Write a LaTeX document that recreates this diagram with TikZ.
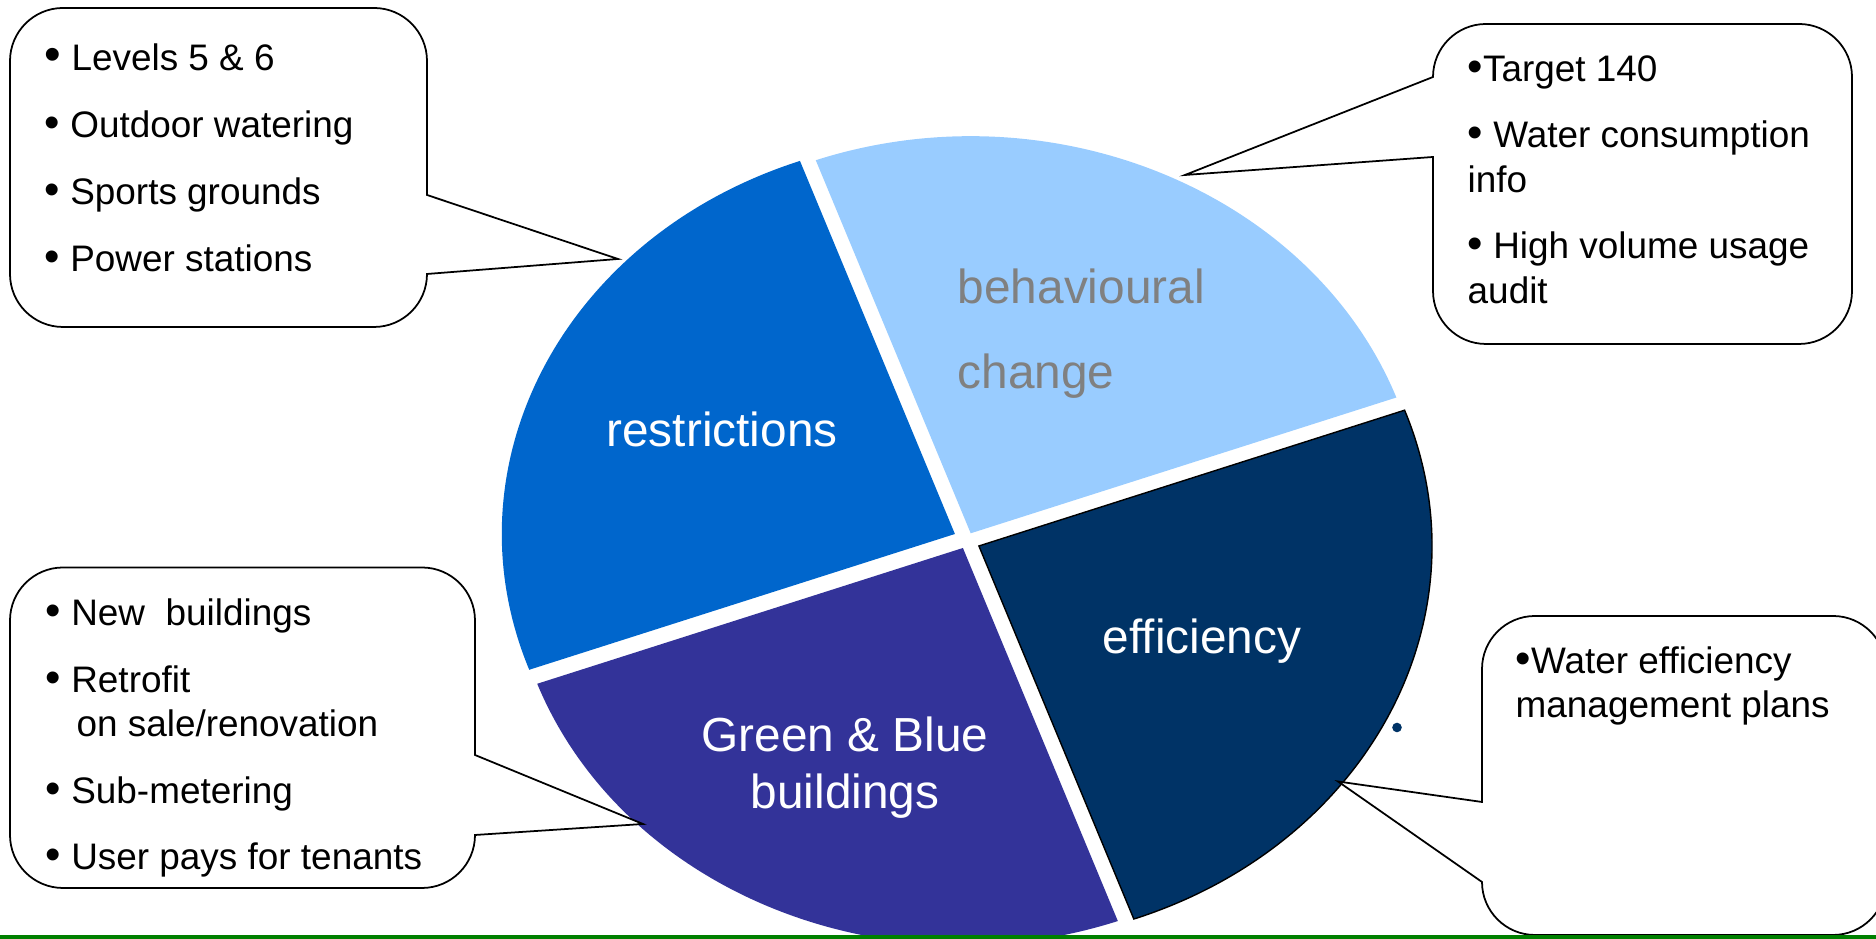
\documentclass[tikz,border=0pt]{standalone}
\usepackage{fontspec}
\setmainfont{Liberation Sans}
\usepackage{tikz}

\definecolor{restrblue}{RGB}{0,102,204}
\definecolor{behavblue}{RGB}{153,204,255}
\definecolor{gbblue}{RGB}{51,51,153}
\definecolor{efficblue}{RGB}{0,51,102}
\definecolor{labelgray}{RGB}{128,128,128}
\definecolor{rulegreen}{RGB}{0,128,0}

% a slightly larger bullet than the text font gives
\newcommand{\bul}{{\fontsize{12.5}{12}\selectfont\textbullet}}

\begin{document}
\begin{tikzpicture}[
  callout/.style={draw=black, line width=0.5pt, fill=white},
  item/.style={anchor=base west, inner sep=0pt, font=\fontsize{10.5}{12.6}\selectfont},
  slicetext/.style={anchor=base, inner sep=0pt, text=white, font=\fontsize{13.6}{16}\selectfont}
]
\useasboundingbox (0,0) rectangle (18.76,9.39);

% the pie, four quarters pulled apart a little
\begin{scope}[shift={(9.669,3.987)}]
\fill[restrblue, shift={(-0.12,0.063)}] (0,0) -- (110:4.53 and 3.97) arc[start angle=110, end angle=200, x radius=4.53, y radius=3.97] -- cycle;
\fill[behavblue, shift={(0.038,0.07)}] (0,0) -- (20:4.53 and 3.97) arc[start angle=20, end angle=110, x radius=4.53, y radius=3.97] -- cycle;
\fill[gbblue, shift={(-0.04,-0.077)}] (0,0) -- (200:4.53 and 3.97) arc[start angle=200, end angle=290, x radius=4.53, y radius=3.97] -- cycle;
\filldraw[fill=efficblue, draw=black, line width=0.4pt, shift={(0.12,-0.057)}] (0,0) -- (290:4.53 and 3.97) arc[start angle=290, end angle=380, x radius=4.53, y radius=3.97] -- cycle;
\end{scope}
\fill[efficblue] (13.97,2.115) circle[radius=0.048];

% slice labels
\node[slicetext] (restr) at (7.22,4.923) {restrictions};
\node[slicetext, anchor=base west, text=labelgray] (behav) at (9.57,6.357) {behavioural};
\node[slicetext, anchor=base west, text=labelgray] (change) at (9.57,5.507) {change};
\node[slicetext] (effic) at (12.02,2.85) {efficiency};
\node[slicetext] (green) at (8.45,1.873) {Green \& Blue};
\node[slicetext] (bldg) at (8.45,1.307) {buildings};

% pointer tips of the callouts
\coordinate (tltip) at (6.18,6.80);
\coordinate (trtip) at (11.85,7.64);
\coordinate (bltip) at (6.43,1.15);
\coordinate (brtip) at (13.38,1.575);

% callout boxes
\draw[callout] (4.27,7.44) -- (tltip) -- (4.27,6.65) arc[start angle=0, end angle=-90, radius=0.53] -- (0.63,6.12) arc[start angle=270, end angle=180, radius=0.53] -- (0.10,8.78) arc[start angle=180, end angle=90, radius=0.53] -- (3.74,9.31) arc[start angle=90, end angle=0, radius=0.53] -- cycle;
\draw[callout] (14.33,7.82) -- (trtip) -- (14.33,8.62) arc[start angle=180, end angle=90, radius=0.53] -- (17.99,9.15) arc[start angle=90, end angle=0, radius=0.53] -- (18.52,6.48) arc[start angle=0, end angle=-90, radius=0.53] -- (14.86,5.95) arc[start angle=270, end angle=180, radius=0.53] -- cycle;
\draw[callout] (4.75,1.84) -- (bltip) -- (4.75,1.04) arc[start angle=0, end angle=-90, radius=0.53] -- (0.63,0.51) arc[start angle=270, end angle=180, radius=0.53] -- (0.10,3.185) arc[start angle=180, end angle=90, radius=0.53] -- (4.22,3.715) arc[start angle=90, end angle=0, radius=0.53] -- cycle;
\draw[callout] (14.82,1.37) -- (brtip) -- (14.82,0.57) arc[start angle=180, end angle=270, radius=0.53] -- (18.33,0.04) arc[start angle=270, end angle=360, radius=0.53] -- (18.86,2.70) arc[start angle=0, end angle=90, radius=0.53] -- (15.35,3.23) arc[start angle=90, end angle=180, radius=0.53] -- cycle;

% callout texts
\node[item] (lvl) at (0.44,8.683) {{\fontsize{13.5}{12}\selectfont\textbullet}\ Levels 5 \& 6};
\node[item] (outd) at (0.44,8.01) {\bul\ Outdoor watering};
\node[item] (sport) at (0.44,7.34) {\bul\ Sports grounds};
\node[item] (power) at (0.44,6.673) {\bul\ Power stations};

\node[item] (target) at (14.67,8.573) {\bul Target 140};
\node[item] (cons) at (14.67,7.91) {\bul\ Water consumption};
\node[item] (info) at (14.67,7.46) {info};
\node[item] (vol) at (14.67,6.80) {\bul\ High volume usage};
\node[item] (audit) at (14.67,6.35) {audit};

\node[item] (new) at (0.45,3.133) {\bul\ New\ \ buildings};
\node[item] (retro) at (0.45,2.467) {\bul\ Retrofit};
\node[item] (sale) at (0.76,2.027) {on sale/renovation};
\node[item] (meter) at (0.45,1.357) {\bul\ Sub-metering};
\node[item] (pays) at (0.45,0.69) {\bul\ User pays for tenants};

\node[item] (weff) at (15.15,2.65) {\bul Water efficiency};
\node[item] (plans) at (15.15,2.217) {management plans};

% green rule along the bottom
\fill[rulegreen] (0,0) rectangle (18.76,0.035);
\end{tikzpicture}
\end{document}
